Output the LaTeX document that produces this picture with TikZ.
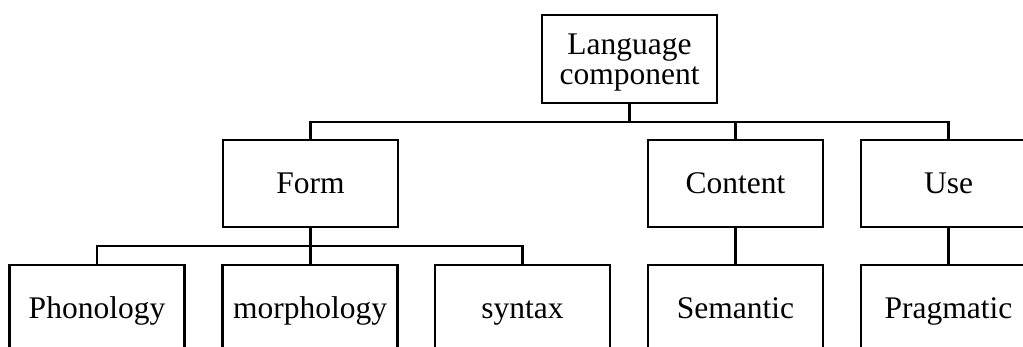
\documentclass[tikz,border=0pt]{standalone}
\usepackage{fontspec}
\setmainfont{Liberation Serif}
\begin{document}
\begin{tikzpicture}[x=1pt, y=-1pt,
  box/.style={draw, line width=2.2pt, rectangle, minimum width=175pt,
    minimum height=87pt, inner sep=0pt, text height=21pt, text depth=0pt,
    font=\fontsize{31.5}{30}\selectfont},
  link/.style={line width=2.2pt}]
\useasboundingbox (0,0) rectangle (1023,347);

% root (negative depth lowers the two text lines inside the box)
\node[box, minimum height=88pt, align=center, text height=, text depth=-5pt]
  (lang) at (629.5,59) {Language\\component};

% second level
\node[box] (form)    at (310.5,183.5) {Form};
\node[box] (content) at (735.5,183.5) {Content};
\node[box] (use)     at (948.5,183.5) {Use};

% third level
\node[box] (phon)  at (97,308.5)    {Phonology};
\node[box] (morph) at (310,308.5)   {morphology};
\node[box] (syn)   at (522.5,308.5) {syntax};
\node[box] (sem)   at (735.5,308.5) {Semantic};
\node[box] (prag)  at (948.5,308.5) {Pragmatic};

% bus lines
\coordinate (bus1) at (629.5,122);
\coordinate (bus2) at (310,246);

\draw[link] (lang.south) -- (bus1);
\draw[link] (form.north) -- (form.north |- bus1) -- (use.north |- bus1) -- (use.north);
\draw[link] (content.north) -- (content.north |- bus1);

\draw[link] (form.south) -- (form.south |- morph.north);
\draw[link] (phon.north) -- (phon.north |- bus2) -- (syn.north |- bus2) -- (syn.north);
\draw[link] (content.south) -- (sem.north);
\draw[link] (use.south) -- (prag.north);
\end{tikzpicture}
\end{document}
